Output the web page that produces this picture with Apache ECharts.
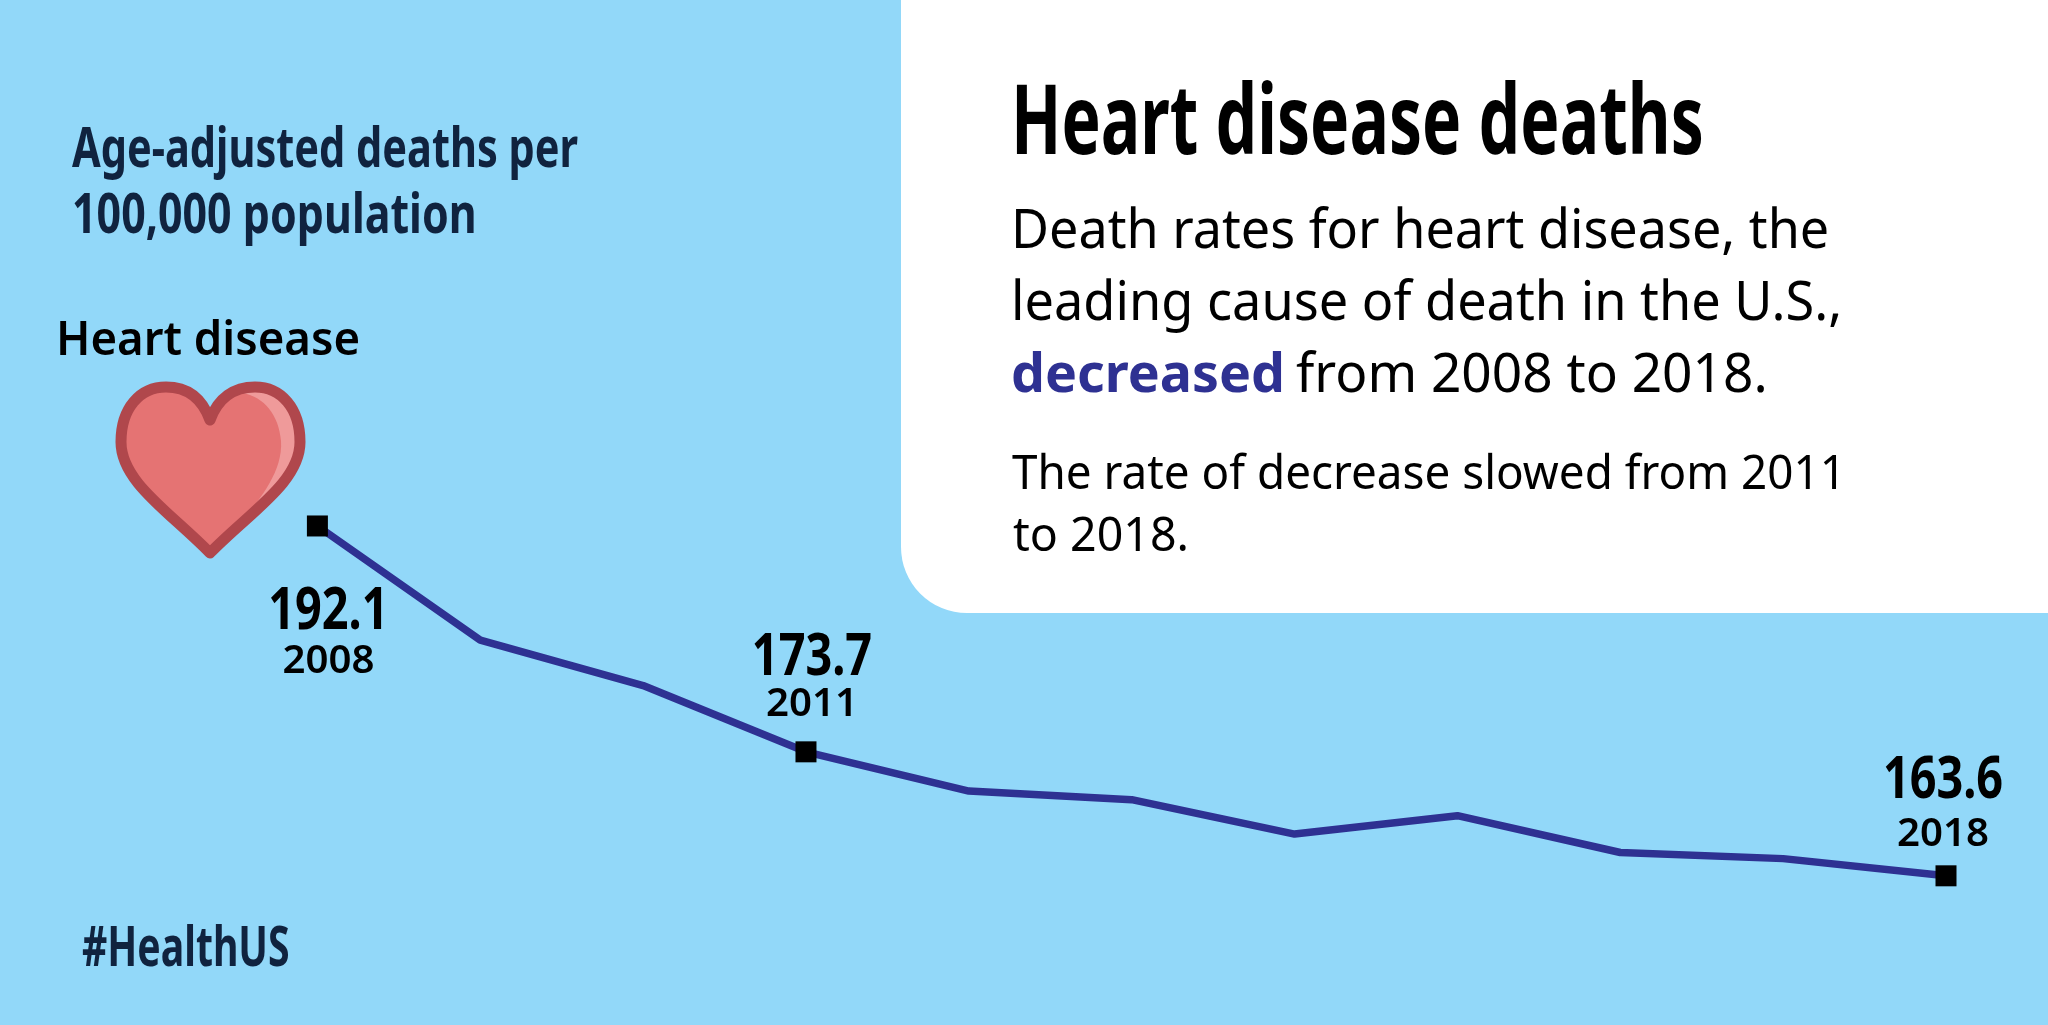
<!DOCTYPE html>
<html>
<head>
<meta charset="utf-8">
<title>Heart disease deaths</title>
<style>
  html, body { margin: 0; height: 100%; background: #92d8f9; }
  #chart { width: 2048px; height: 1025px; }
</style>
<script src="https://cdn.jsdelivr.net/npm/echarts@6/dist/echarts.min.js"></script>
</head>
<body>
<div id="chart"></div>
<script>
var years = ['2008', '2009', '2010', '2011', '2012', '2013', '2014', '2015', '2016', '2017', '2018'];
var deathRates = [192.1, 182.8, 179.1, 173.7, 170.5, 169.8, 167.0, 168.5, 165.5, 165.0, 163.6];
var labelledYears = ['2008', '2011', '2018'];

var lineColor = '#2e3192';
var navy = '#10233f';
var heartPath = 'M210 420 C202 398 187 387 166 387 C140 387 121 408 121 442 C121 482 170 512 210 553 C250 512 300 482 300 442 C300 408 281 387 255 387 C234 387 218 398 210 420 Z';
var shinePath = 'M243 393 C264 397 279 415 281 441 C283 470 262 497 240 524 C268 500 296 474 296 440 C296 410 276 389 255 390 C251 390 247 391 243 393 Z';

// where each value/year pair sits relative to its point: [dx, value baseline, year baseline]
var labelOffsets = { 2008: [11, 103, 147], 2011: [6, -77, -35], 2018: [-3, -78, -29] };

// sized text, squeezed sideways because the original face is condensed
function label(text, x, y, font, fill, scaleX, align) {
  return {
    type: 'text',
    x: x,
    y: y,
    scaleX: scaleX,
    z: 10,
    style: { text: text, font: font, fill: fill, textAlign: align || 'left', textVerticalAlign: 'bottom' }
  };
}

var boldFont = '700 56px "Noto Sans"';
var bodyFont = '400 54px "Noto Sans"';
var subFont = '400 47px "Noto Sans"';

var panelAndText = [
  {
    type: 'rect',
    z: 1,
    shape: { x: 901, y: -80, width: 1230, height: 693, r: [0, 0, 0, 66] },
    style: { fill: '#fff' }
  },
  label('Age-adjusted deaths per', 72, 179, boldFont, navy, 0.741),
  label('100,000 population', 72, 245, boldFont, navy, 0.767),
  label('Heart disease', 56, 365, '600 46px "Noto Sans"', '#000', 0.99),
  label('#HealthUS', 82, 978, boldFont, navy, 0.7),
  label('Heart disease deaths', 1011, 175, '700 96px "Noto Sans"', '#000', 0.687),
  label('Death rates for heart disease, the', 1011, 260, bodyFont, '#000', 0.965),
  label('leading cause of death in the U.S.,', 1011, 332, bodyFont, '#000', 0.968),
  label('decreased', 1011, 404, '700 54px "Noto Sans"', lineColor, 0.995),
  label('from 2008 to 2018.', 1296, 404, bodyFont, '#000', 0.985),
  label('The rate of decrease slowed from 2011', 1012, 499, subFont, '#000', 0.975),
  label('to 2018.', 1013, 561, subFont, '#000', 0.99)
];

var chart = echarts.init(document.getElementById('chart'));

chart.setOption({
  backgroundColor: '#92d8f9',
  animation: false,
  grid: { left: 317.4, right: 102, top: 429, height: 491 },
  xAxis: { type: 'category', data: years, boundaryGap: false, show: false },
  yAxis: { type: 'value', min: 160, max: 200, show: false },
  series: [
    {
      type: 'custom',
      coordinateSystem: 'none',
      silent: true,
      z: 5,
      data: [0],
      renderItem: function () {
        return {
          type: 'group',
          children: [
            { type: 'path', shape: { pathData: heartPath, x: 121, y: 387, width: 179, height: 166, layout: 'cover' }, style: { fill: '#e57373' } },
            { type: 'path', shape: { pathData: shinePath, x: 240, y: 390, width: 56, height: 134, layout: 'cover' }, style: { fill: '#ef9a9a' } },
            { type: 'path', shape: { pathData: heartPath, x: 121, y: 387, width: 179, height: 166, layout: 'cover' }, style: { fill: 'none', stroke: '#b0474c', lineWidth: 11, lineJoin: 'round' } }
          ]
        };
      }
    },
    {
      type: 'line',
      z: 3,
      showAllSymbol: true,
      lineStyle: { color: lineColor, width: 7.5 },
      itemStyle: { color: '#000' },
      data: deathRates.map(function (rate, i) {
        return {
          value: rate,
          symbol: labelledYears.indexOf(years[i]) >= 0 ? 'rect' : 'none',
          symbolSize: 21
        };
      })
    }
  ]
});

// value labels need the same squeeze, which series labels cannot do, so hang them off the axis scales
var valueLabels = [];
labelledYears.forEach(function (year) {
  var rate = deathRates[years.indexOf(year)];
  var pt = chart.convertToPixel({ seriesIndex: 1 }, [year, rate]);
  var off = labelOffsets[year];
  valueLabels.push(label(rate.toFixed(1), pt[0] + off[0], pt[1] + off[1] + 13, '700 60px "Noto Sans"', '#000', 0.78, 'center'));
  valueLabels.push(label(year, pt[0] + off[0], pt[1] + off[2] + 8, '600 39px "Noto Sans"', '#000', 1.03, 'center'));
});

chart.setOption({ graphic: panelAndText.concat(valueLabels) });
</script>
</body>
</html>
